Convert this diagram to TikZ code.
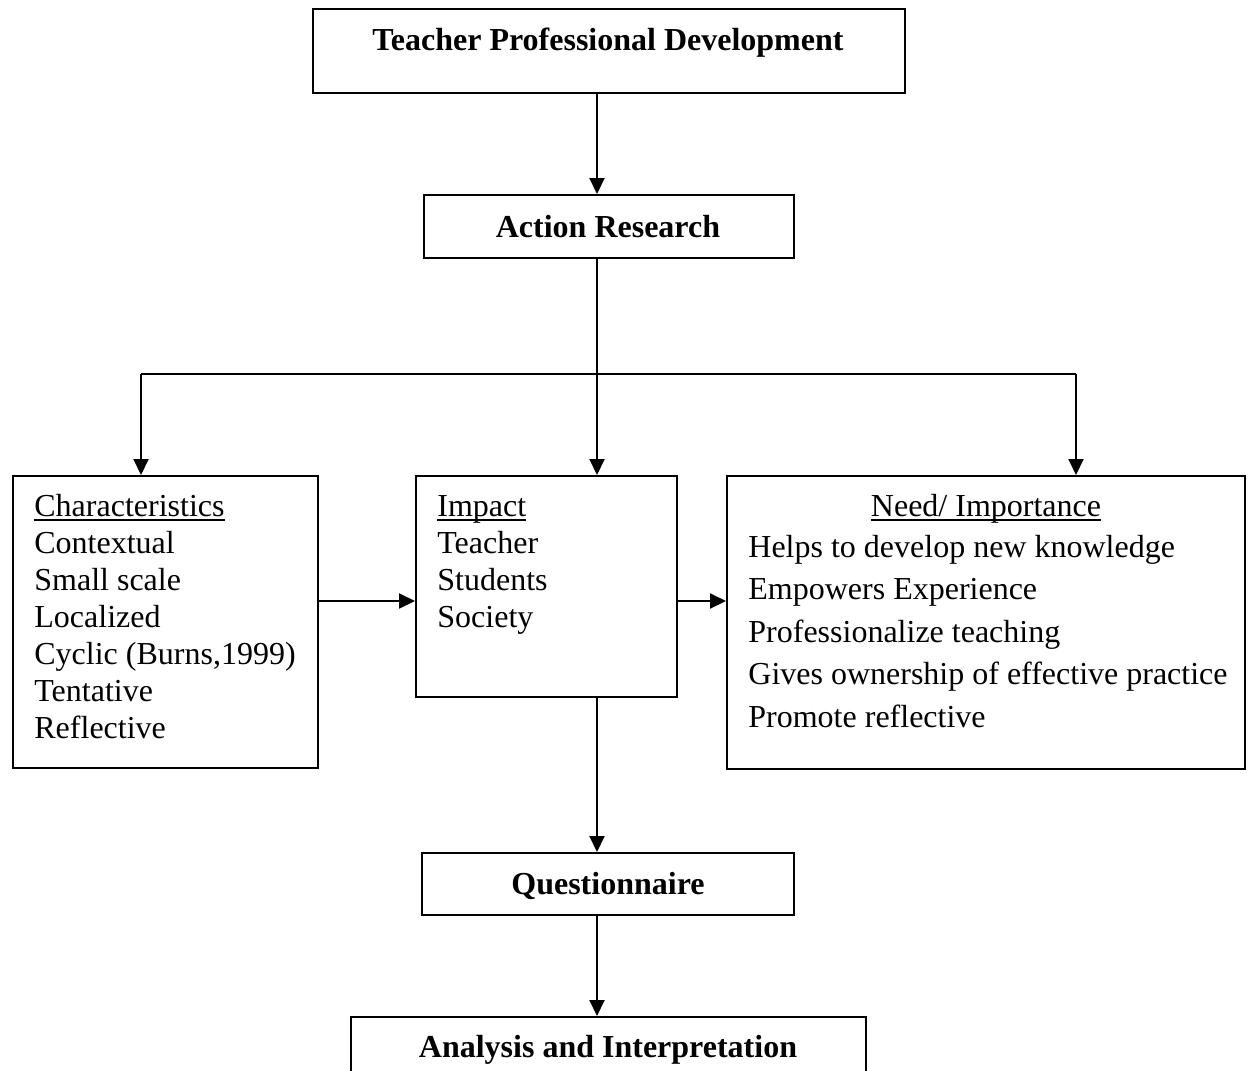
\documentclass[tikz,border=0pt]{standalone}
\usepackage{fontspec}
\setmainfont{Liberation Serif}
\usetikzlibrary{arrows.meta}
\newcommand\myul[1]{\setbox0\hbox{#1}\rlap{\rule[-2.6pt]{\wd0}{0.9pt}}\box0}
\begin{document}
\begin{tikzpicture}[x=0.5pt,y=-0.5pt,
  box/.style={draw, line width=1pt, inner sep=0pt, rectangle},
  txt/.style={inner sep=0pt, font=\fontsize{16pt}{18pt}\selectfont},
  ltxt/.style={txt, anchor=base west},
  ctxt/.style={txt, anchor=base, font=\fontsize{16pt}{18pt}\selectfont\bfseries},
  conn/.style={line width=1pt},
  arr/.style={line width=1pt, -{Triangle[length=8pt,width=7.5pt]}}]
\useasboundingbox (0,0) rectangle (1250,1071);
\clip (0,0) rectangle (1250,1071);
% boxes
\node[box, minimum width=296pt, minimum height=42pt] (top) at (609,51) {};
\node[box, minimum width=185pt, minimum height=31.5pt] (ar) at (609,226.5) {};
\node[box, minimum width=152.5pt, minimum height=146pt] (char) at (165.5,622) {};
\node[box, minimum width=130.5pt, minimum height=110.5pt] (imp) at (546.5,586.5) {};
\node[box, minimum width=259pt, minimum height=146.5pt] (need) at (986,622.5) {};
\node[box, minimum width=186pt, minimum height=31pt] (q) at (608,884) {};
\node[box, minimum width=257.5pt, minimum height=60pt] (an) at (608.5,1077) {};
% titles
\node[ctxt] (ttop) at (608,50) {Teacher Professional Development};
\node[ctxt] (tar) at (608,237) {Action Research};
\node[ctxt] (tq) at (608,894) {Questionnaire};
\node[ctxt] (tan) at (608,1057) {Analysis and Interpretation};
% characteristics
\node[ltxt] (c0) at (34,516) {\myul{Characteristics}};
\node[ltxt] (c1) at (34,553) {Contextual};
\node[ltxt] (c2) at (34,590) {Small scale};
\node[ltxt] (c3) at (34,627) {Localized};
\node[ltxt] (c4) at (34,664) {Cyclic (Burns,1999)};
\node[ltxt] (c5) at (34,701) {Tentative};
\node[ltxt] (c6) at (34,738) {Reflective};
% impact
\node[ltxt] (i0) at (437,516) {\myul{Impact}};
\node[ltxt] (i1) at (437,553) {Teacher};
\node[ltxt] (i2) at (437,590) {Students};
\node[ltxt] (i3) at (437,627) {Society};
% need
\node[txt, anchor=base] (n0) at (986,516) {\myul{Need/ Importance}};
\node[ltxt] (n1) at (748,557) {Helps to develop new knowledge};
\node[ltxt] (n2) at (748,599.5) {Empowers Experience};
\node[ltxt] (n3) at (748,642) {Professionalize teaching};
\node[ltxt] (n4) at (748,684.5) {Gives ownership of effective practice};
\node[ltxt] (n5) at (748,727) {Promote reflective};
% connectors
\coordinate (sx) at (597,0);
\coordinate (j) at (597,374);
\coordinate (jl) at (141,374);
\coordinate (jr) at (1076,374);
\coordinate (hy) at (0,601);
\draw[arr] (top.south -| sx) -- (ar.north -| sx);
\draw[conn] (ar.south -| sx) -- (j);
\draw[conn] (jl) -- (jr);
\draw[arr] (jl) -- (char.north -| jl);
\draw[arr] (j) -- (imp.north -| sx);
\draw[arr] (jr) -- (need.north -| jr);
\draw[arr] (char.east |- hy) -- (imp.west |- hy);
\draw[arr] (imp.east |- hy) -- (need.west |- hy);
\draw[arr] (imp.south -| sx) -- (q.north -| sx);
\draw[arr] (q.south -| sx) -- (an.north -| sx);
\end{tikzpicture}
\end{document}
